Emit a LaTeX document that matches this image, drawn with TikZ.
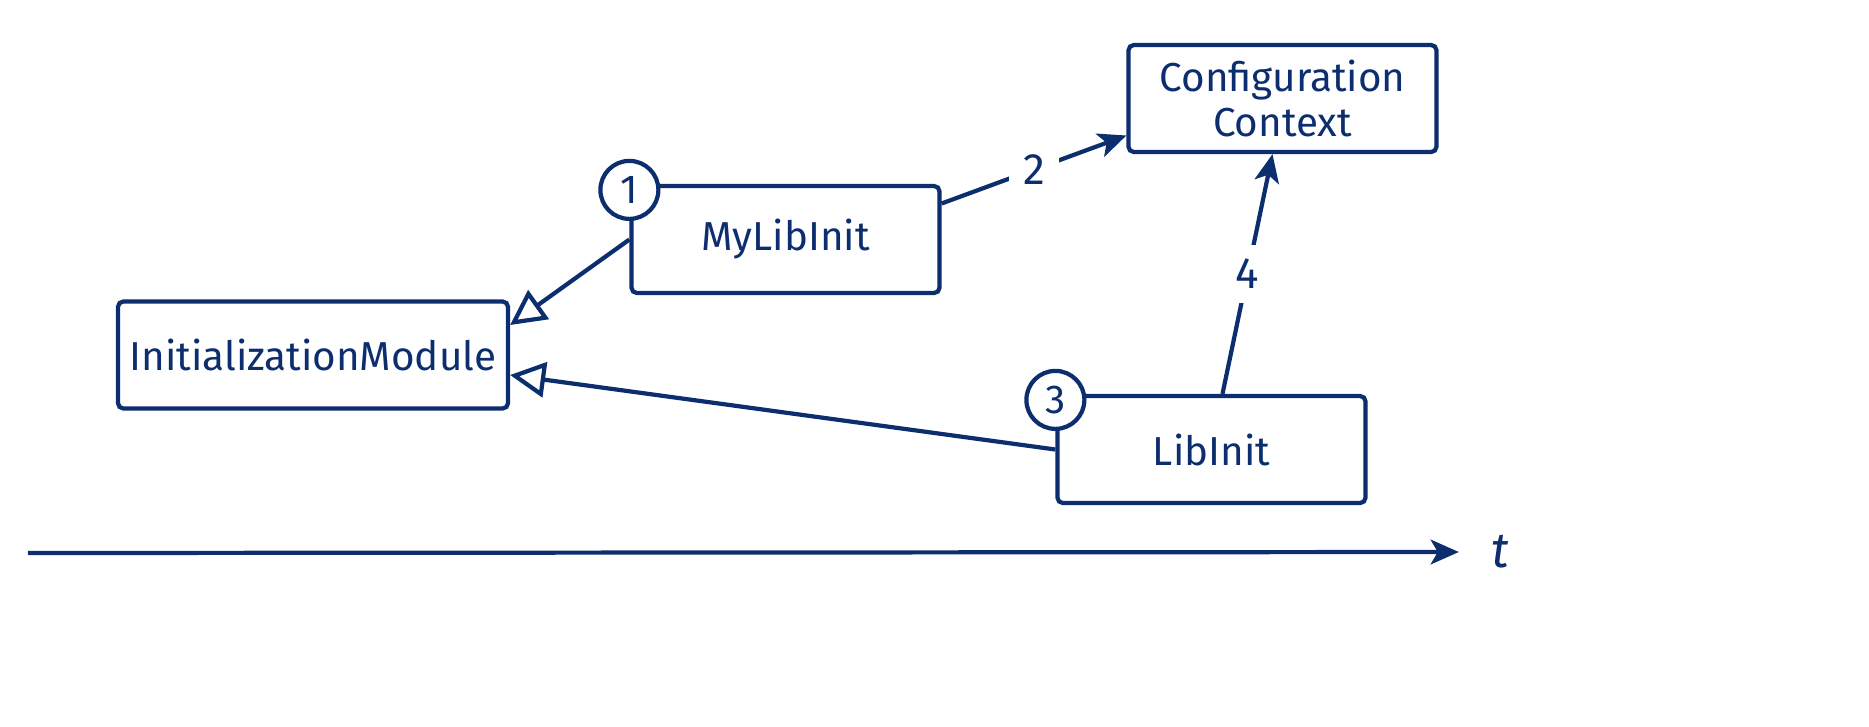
\documentclass[tikz,border=0pt]{standalone}
\usepackage{fontspec}
\setmainfont{Fira Sans}
\usepackage{xcolor}
\usetikzlibrary{positioning,arrows.meta,calc}
\definecolor{inkblue}{RGB}{12,46,110}
\tikzset{
  modbox/.style={draw=inkblue,line width=1.2pt,rounded corners=1.5pt,minimum width=3.08cm,minimum height=1.07cm,
    text=inkblue,align=center,font=\fontsize{11.5}{13}\selectfont},
  numcirc/.style={circle,draw=inkblue,fill=white,line width=1.2pt,minimum size=0.58cm,
    inner sep=0pt,text=inkblue,font=\fontsize{11.5}{12}\selectfont},
  steplabel/.style={fill=white,text=inkblue,inner sep=4pt,font=\fontsize{12.5}{12}\selectfont},
  inherit/.style={draw=inkblue,line width=1.2pt,-{Triangle[open,length=10pt,width=10pt]}},
  uses/.style={draw=inkblue,line width=1.2pt,-{Stealth[length=8pt,width=7pt,inset=2pt]}}
}

\begin{document}
\begin{tikzpicture}
    \useasboundingbox (0,0) rectangle (18.69,7.26);
    % modules
    \node[modbox] (init) at (3.13,3.71) {InitializationModule};
    \node[modbox] (mylib) at (7.855,4.865) {MyLibInit};
    \node[modbox] (config) at (12.825,6.275) {Configuration\\Context};
    \node[modbox] (lib) at (12.115,2.765) {LibInit};
    % step numbers
    \node[numcirc] (one) at ([yshift=-0.06cm]mylib.north west) {1};
    \node[numcirc] (three) at ([yshift=-0.06cm]lib.north west) {3};
    % connectors
    \draw[inherit] (mylib.west) -- ([yshift=0.3cm]init.east);
    \draw[inherit] (lib.west) -- ([yshift=-0.2cm]init.east);
    \draw[uses] ([yshift=0.36cm]mylib.east) -- node[steplabel] (two) {2} ([yshift=-0.37cm]config.west);
    \draw[uses] ([xshift=0.11cm]lib.north) -- node[steplabel] (four) {4} ([xshift=-0.1cm]config.south);
    % time axis
    \coordinate (tstart) at (0.28,1.73);
    \node[text=inkblue,font=\itshape\fontsize{14}{14}\selectfont] (t) at (15.0,1.74) {t};
    \draw[uses] (tstart) -- ([xshift=-0.2cm]t.west);
\end{tikzpicture}
\end{document}
